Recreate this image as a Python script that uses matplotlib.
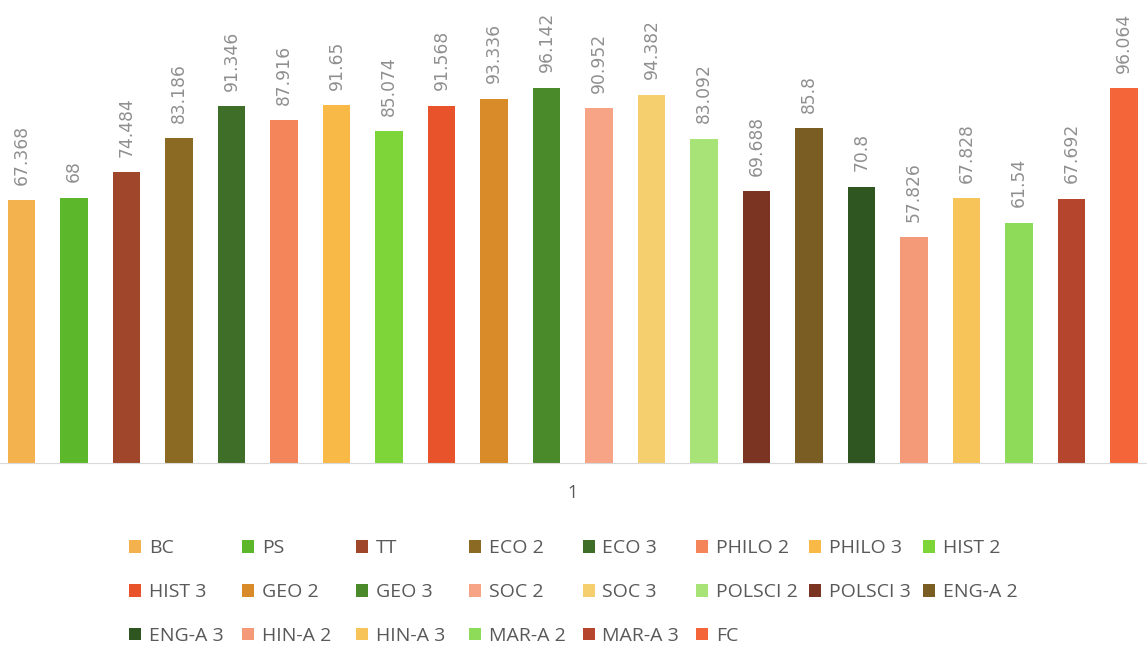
import numpy as np
import matplotlib.pyplot as plt
from matplotlib.patches import Patch

subjects = ['BC', 'PS', 'TT', 'ECO 2', 'ECO 3', 'PHILO 2', 'PHILO 3', 'HIST 2',
            'HIST 3', 'GEO 2', 'GEO 3', 'SOC 2', 'SOC 3', 'POLSCI 2', 'POLSCI 3', 'ENG-A 2',
            'ENG-A 3', 'HIN-A 2', 'HIN-A 3', 'MAR-A 2', 'MAR-A 3', 'FC']
scores = [67.368, 68, 74.484, 83.186, 91.346, 87.916, 91.65, 85.074,
          91.568, 93.336, 96.142, 90.952, 94.382, 83.092, 69.688, 85.8,
          70.8, 57.826, 67.828, 61.54, 67.692, 96.064]
score_labels = ['67.368', '68', '74.484', '83.186', '91.346', '87.916', '91.65', '85.074',
                '91.568', '93.336', '96.142', '90.952', '94.382', '83.092', '69.688', '85.8',
                '70.8', '57.826', '67.828', '61.54', '67.692', '96.064']
colors = ['#F4B24E', '#5CB82A', '#A0462B', '#8B6A24', '#3F6E28', '#F4845A', '#F8B947', '#7DD53A',
          '#E8532B', '#D98B2A', '#4B8A2B', '#F6A386', '#F5CF6E', '#A8E378', '#7A3421', '#7A5D23',
          '#2F5621', '#F49A78', '#F7C45A', '#8EDB5A', '#B5462D', '#F4663A']
category = ['1']

plt.rcParams['font.family'] = ['Open Sans', 'DejaVu Sans']

W, H = 1147, 645
fig = plt.figure(figsize=(W / 100, H / 100), dpi=100)
ax = fig.add_axes([0, (H - 463) / H, 1, 463 / H])

x = np.arange(len(scores))
ax.bar(x, scores, width=0.52, color=colors)

for xi, v, lab in zip(x, scores, score_labels):
    ax.annotate(lab, (xi, v), xytext=(0, 11), textcoords='offset points',
                rotation=90, ha='center', va='bottom', fontsize=12.3,
                family='DejaVu Sans', color='#8f8f8f')

ax.set_xlim(-0.41, 21.44)
ax.set_ylim(0, 118.6)
for s in ['top', 'right', 'left']:
    ax.spines[s].set_visible(False)
ax.spines['bottom'].set_color('#d9d9d9')
ax.set_yticks([])
ax.set_xticks([10.5])
ax.set_xticklabels(category, fontsize=13, color='#595959')
ax.tick_params(axis='x', length=0, pad=15)

# Excel-style legend: 8 equal-width columns, filled row by row
ncol = 8
col_x0 = 129      # px, left edge of first marker
col_w = 113.4     # px, column pitch
for c in range(ncol):
    idx = [i for i in range(c, len(subjects), ncol)]
    handles = [Patch(facecolor=colors[i], label=subjects[i]) for i in idx]
    fig.legend(handles=handles, loc='upper left',
               bbox_to_anchor=((col_x0 + c * col_w) / W, 0.164),
               frameon=False, fontsize=14, labelcolor='#595959',
               borderpad=0, borderaxespad=0,
               handlelength=0.62, handleheight=0.62, handletextpad=0.4,
               labelspacing=1.33)

fig.savefig('out.png', dpi=100)
